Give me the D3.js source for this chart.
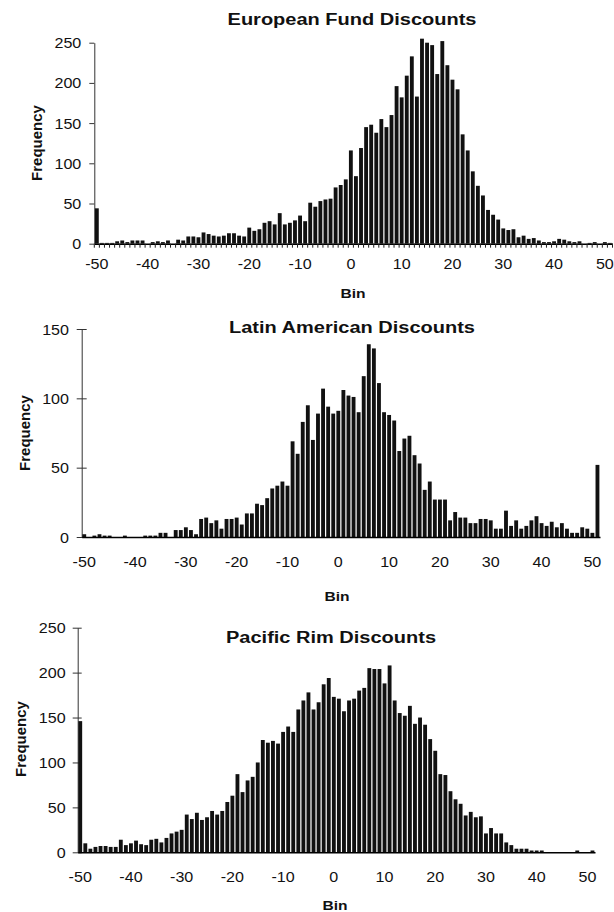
<!DOCTYPE html>
<meta charset="utf-8">
<style>

body {
  margin: 0;
  background: #fff;
}

text {
  font-family: Arial, "Liberation Sans", sans-serif;
  fill: #111;
}

.bar {
  fill: #111;
}

.title {
  font-size: 16px;
  font-weight: bold;
}

.tick text {
  font-size: 14px;
}

.axis-label {
  font-size: 13px;
  font-weight: bold;
}

.freq-label {
  font-size: 15px;
  font-weight: bold;
}

</style>
<svg width="614" height="912"></svg>
<script src="https://d3js.org/d3.v7.min.js"></script>
<script>

// bins -50 .. 51 (last bin holds everything above 50)
var bins = d3.range(-50, 52);
var xTickLabels = [-50, -40, -30, -20, -10, 0, 10, 20, 30, 40, 50];

var titles = ["European Fund Discounts", "Latin American Discounts", "Pacific Rim Discounts"];

var europeanFreq = [
  44, 1, 1, 1, 3, 4, 2, 4, 4, 4,
  0, 2, 3, 2, 4, 0, 5, 4, 9, 9,
  8, 14, 12, 10, 9, 10, 13, 13, 10, 9,
  20, 16, 18, 26, 28, 24, 38, 24, 26, 29,
  35, 28, 51, 46, 53, 55, 56, 70, 73, 80,
  116, 84, 119, 145, 148, 138, 155, 145, 160, 196,
  182, 209, 233, 183, 255, 250, 247, 211, 252, 222,
  204, 192, 136, 116, 90, 72, 60, 42, 36, 30,
  19, 17, 18, 8, 10, 6, 7, 4, 2, 2,
  3, 6, 5, 3, 2, 3, 0, 1, 2, 0,
  2, 1
];

var latinFreq = [
  2, 0, 1, 2, 1, 1, 0, 0, 1, 0,
  0, 0, 1, 1, 1, 3, 3, 0, 5, 5,
  7, 5, 2, 13, 14, 10, 12, 6, 13, 13,
  14, 9, 17, 17, 24, 23, 28, 35, 37, 40,
  37, 69, 60, 83, 95, 70, 89, 107, 94, 89,
  91, 106, 102, 101, 90, 116, 139, 136, 111, 90,
  88, 84, 62, 71, 73, 59, 53, 34, 40, 27,
  27, 27, 12, 18, 14, 14, 10, 10, 13, 13,
  12, 6, 6, 19, 8, 12, 6, 8, 12, 15,
  10, 8, 11, 7, 10, 6, 3, 3, 7, 6,
  3, 52
];

var pacificFreq = [
  146, 10, 4, 6, 7, 7, 6, 6, 14, 8,
  10, 13, 9, 8, 14, 15, 11, 16, 21, 23,
  25, 42, 37, 44, 36, 39, 46, 42, 46, 56,
  63, 87, 67, 80, 84, 100, 125, 122, 124, 121,
  134, 140, 134, 159, 169, 178, 159, 167, 187, 194,
  173, 171, 157, 169, 171, 180, 183, 205, 204, 204,
  188, 208, 169, 155, 152, 163, 143, 150, 142, 126,
  113, 87, 86, 68, 59, 54, 41, 45, 39, 40,
  21, 27, 21, 21, 11, 8, 4, 4, 4, 2,
  2, 2, 0, 0, 0, 0, 0, 0, 2, 0,
  0, 2
];

var europeanYTicks = [0, 50, 100, 150, 200, 250];
var latinYTicks = [0, 50, 100, 150];
var pacificYTicks = [0, 50, 100, 150, 200, 250];

var svg = d3.select("svg");

// panel placement on the page
var panels = [
  {left: 94.3, right: 612.5, top: 42.7, bottom: 243.7, labelGap: 13, labelDrop: 25.3,
   titleX: 352, titleY: 25, binX: 353, binY: 298, freqX: 36.7, freqY: 143,
   tickIn: 0, catTicks: true},
  {left: 81.7, right: 600, top: 329, bottom: 537, labelGap: 12.7, labelDrop: 29.7,
   titleX: 352, titleY: 333, binX: 337, binY: 601, freqX: 25, freqY: 433,
   tickIn: 5, catTicks: false},
  {left: 77.7, right: 595, top: 627.7, bottom: 852.3, labelGap: 12, labelDrop: 29.4,
   titleX: 331, titleY: 643, binX: 335, binY: 910, freqX: 20.7, freqY: 739,
   tickIn: 4, catTicks: false}
];

function stretched(sel, x, y, sx) {
  return sel.attr("transform", "translate(" + x + "," + y + ") scale(" + sx + ",1)");
}

function drawPanel(p, freq, yTicks, title) {
  var x = d3.scaleBand().domain(bins).range([p.left, p.right])
      .paddingInner(0.24).paddingOuter(0.12);
  var y = d3.scaleLinear().domain([0, yTicks[yTicks.length - 1]]).range([p.bottom, p.top]);

  var g = svg.append("g");

  // y axis
  var yAxis = g.append("g")
      .attr("transform", "translate(" + p.left + ",0)")
      .call(d3.axisLeft(y).tickValues(yTicks).tickSize(5).tickSizeOuter(0));
  yAxis.select(".domain").attr("stroke", "#333");
  yAxis.selectAll(".tick line").attr("x1", p.tickIn).attr("stroke", "#333");
  yAxis.selectAll(".tick text")
      .attr("x", null)
      .attr("dy", "0.36em")
      .attr("text-anchor", "end")
      .each(function() { stretched(d3.select(this), -p.labelGap, 0, 1.15); });

  // bars
  g.selectAll(".bar")
    .data(bins)
    .enter().append("rect")
      .attr("class", "bar")
      .attr("x", function(d) { return x(d); })
      .attr("width", x.bandwidth())
      .attr("y", function(d, i) { return y(freq[i]); })
      .attr("height", function(d, i) { return y(0) - y(freq[i]); });

  // x axis
  var xAxis = g.append("g")
      .attr("transform", "translate(0," + p.bottom + ")")
      .call(d3.axisBottom(x).tickValues(xTickLabels).tickSize(0).tickSizeOuter(0));
  xAxis.select(".domain").attr("stroke", "#000").attr("stroke-width", 1.5);
  xAxis.selectAll(".tick text")
      .attr("y", null)
      .attr("dy", null)
      .each(function() { stretched(d3.select(this), 0, p.labelDrop, 1.15); });

  if (p.catTicks) {
    var half = (x.step() - x.bandwidth()) / 2;
    var edges = bins.map(function(d) { return x(d) - half; });
    edges.push(x(bins[bins.length - 1]) + x.bandwidth() + half);
    xAxis.selectAll(".cat-tick")
      .data(edges)
      .enter().append("line")
        .attr("x1", function(d) { return d; })
        .attr("x2", function(d) { return d; })
        .attr("y1", 0)
        .attr("y2", 4)
        .attr("stroke", "#222");
  }

  stretched(g.append("text").attr("class", "title").attr("text-anchor", "middle").text(title),
      p.titleX, p.titleY, 1.25);

  stretched(g.append("text").attr("class", "axis-label").attr("text-anchor", "middle").text("Bin"),
      p.binX, p.binY, 1.2);

  g.append("text")
      .attr("class", "freq-label")
      .attr("text-anchor", "middle")
      .attr("dy", "0.35em")
      .attr("transform", "translate(" + p.freqX + "," + p.freqY + ") rotate(-90)")
      .text("Frequency");
}

drawPanel(panels[0], europeanFreq, europeanYTicks, titles[0]);
drawPanel(panels[1], latinFreq, latinYTicks, titles[1]);
drawPanel(panels[2], pacificFreq, pacificYTicks, titles[2]);

</script>
